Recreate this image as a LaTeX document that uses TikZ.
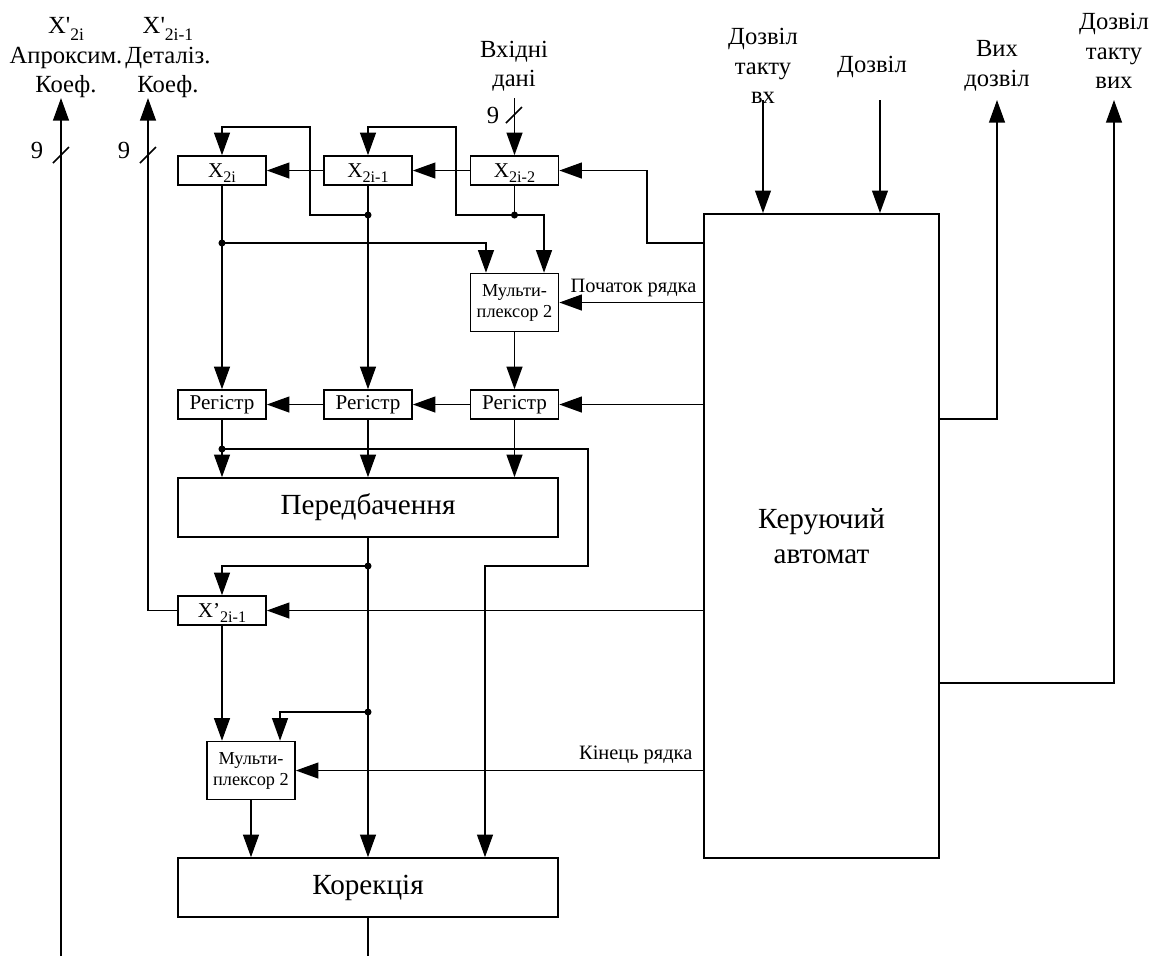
\documentclass[tikz,border=0pt]{standalone}
\usepackage{fontspec}
\setmainfont{Liberation Serif}
\newfontfamily\quotefont{Liberation Serif}[Ligatures=ResetAll]
\usetikzlibrary{arrows.meta}

% lowered indices
\newcommand\bsub[1]{\raisebox{-1.4pt}[0pt][0pt]{\fontsize{4.6}{5}\selectfont #1}}
\newcommand\lsub[1]{\raisebox{-2pt}[0pt][0pt]{\fontsize{5}{5}\selectfont #1}}
\newcommand\sq{{\quotefont '}}

\tikzset{
  blk/.style={draw, line width=0.45pt, inner sep=0pt, align=center},
  reg/.style={blk, minimum width=0.88cm, minimum height=0.29cm, font=\fontsize{6}{7}\selectfont},
  mux/.style={blk, minimum width=0.88cm, minimum height=0.58cm, font=\fontsize{5.2}{6}\selectfont},
  unit/.style={blk, minimum width=3.80cm, minimum height=0.59cm, font=\fontsize{8.3}{10}\selectfont},
  sig/.style={line width=0.45pt, -{Triangle[length=6.4pt,width=4.5pt]}},
  wire/.style={line width=0.45pt},
  lbl/.style={align=center, inner sep=0pt, font=\fontsize{7}{8.4}\selectfont},
  note/.style={inner sep=0pt, font=\fontsize{5.8}{7}\selectfont}
}

\begin{document}
\begin{tikzpicture}[x=0.01cm,y=-0.01cm]
\useasboundingbox (0,0) rectangle (1157,956);

% input row of registers
\node[reg] (xa) at (222,170.5) {X\bsub{2i}};
\node[reg] (xb) at (368,170.5) {X\bsub{2i-1}};
\node[reg] (xc) at (514.5,170.5) {X\bsub{2i-2}};
\node[mux] (muxa) at (514.5,302.5) {Мульти-\\плексор 2};
\node[reg] (rga) at (222,404.5) {Регістр};
\node[reg] (rgb) at (368,404.5) {Регістр};
\node[reg] (rgc) at (514.5,404.5) {Регістр};
\node[unit] (pred) at (368,507.5) {Передбачення};
\node[reg] (xd) at (222,610.5) {X’\bsub{2i-1}};
\node[mux] (muxb) at (251,770.5) {Мульти-\\плексор 2};
\node[unit] (corr) at (368,887.5) {Корекція};
\node[unit, minimum width=2.35cm, minimum height=6.44cm] (ctrl) at (821.5,536) {Керуючий\\автомат};

% outer labels
\node[lbl] (tapr) at (66,58) {X\sq\lsub{2i}\\Апроксим.\\Коеф.};
\node[lbl] (tdet) at (168,58) {X\sq\lsub{2i-1}\\Деталіз.\\Коеф.};
\node[lbl] (tin) at (514,66) {Вхідні\\дані};
\node[lbl] (ten) at (763,66) {Дозвіл\\такту\\вх};
\node[lbl, anchor=base] (tok) at (872,72) {Дозвіл};
\node[lbl] (tvd) at (997,66) {Вих\\дозвіл};
\node[lbl] (tvt) at (1114,51) {Дозвіл\\такту\\вих};

% bus widths
\coordinate (din) at (514.5,98);
\coordinate (oapr) at (61,98);
\coordinate (odet) at (148,98);
\coordinate (bapr) at (61,956);
\draw[wire] (53,163) -- (69,147);
\draw[wire] (140,163) -- (156,147);
\draw[wire] (506,123) -- (522,107);
\node[lbl, anchor=base] (wapr) at (37,158) {9};
\node[lbl, anchor=base] (wdet) at (124,158) {9};
\node[lbl, anchor=base] (win) at (493,123) {9};

% shifting of the input samples
\draw[sig] (din) -- (xc.north);
\draw[sig] (xc.west) -- (xb.east);
\draw[sig] (xb.west) -- (xa.east);
\draw[sig] (xb.south) -- (368,215) -| (310,127) -| (xa.north);
\draw[sig] (xc.south) -- (514.5,215) -| (456,127) -| (xb.north);
\draw[sig] (514.5,215) -| ([xshift=0.295cm]muxa.north);
\draw[sig] (222,243) -| ([xshift=-0.285cm]muxa.north);
\fill (368,215) circle (1pt);
\fill (514.5,215) circle (1pt);
\fill (222,243) circle (1pt);

% second register row
\draw[sig] (xa.south) -- (rga.north);
\draw[sig] (xb.south) -- (rgb.north);
\draw[sig] (muxa.south) -- (rgc.north);
\draw[sig] (rgc.west) -- (rgb.east);
\draw[sig] (rgb.west) -- (rga.east);

% prediction
\draw[sig] (rga.south) -- (rga.south |- pred.north);
\draw[sig] (rgb.south) -- (pred.north);
\draw[sig] (rgc.south) -- (rgc.south |- pred.north);
\draw[sig] (222,449) -| (588,566) -| (corr.north -| 485,0);
\fill (222,449) circle (1pt);

% correction
\draw[sig] (pred.south) -- (corr.north);
\draw[sig] (368,566) -| (xd.north);
\draw[sig] (368,712) -| ([xshift=0.29cm]muxb.north);
\fill (368,566) circle (1pt);
\fill (368,712) circle (1pt);
\draw[sig] (xd.south) -- (xd.south |- muxb.north);
\draw[sig] (muxb.south) -- (muxb.south |- corr.north);
\draw[wire] (corr.south) -- (368,956);

% coefficient outputs
\draw[sig] (xd.west) -| (odet);
\draw[sig] (bapr) -- (oapr);

% control lines of the automaton
\draw[sig] (ctrl.west |- 0,243) -| (647,170.5) -- (xc.east);
\draw[sig] (ctrl.west |- muxa.east) -- (muxa.east)
  node[note, pos=0, anchor=base east, xshift=-0.06cm, yshift=0.105cm] {Початок рядка};
\draw[sig] (ctrl.west |- rgc.east) -- (rgc.east);
\draw[sig] (ctrl.west |- xd.east) -- (xd.east);
\draw[sig] (ctrl.west |- muxb.east) -- (muxb.east)
  node[note, pos=0, anchor=base east, xshift=-0.1cm, yshift=0.115cm] {Кінець рядка};
\draw[sig] (763,100) -- (ctrl.north -| 763,0);
\draw[sig] (880,100) -- (ctrl.north -| 880,0);
\draw[sig] (ctrl.east |- 0,419) -| (997,100);
\draw[sig] (ctrl.east |- 0,683) -| (1114,100);
\end{tikzpicture}
\end{document}
